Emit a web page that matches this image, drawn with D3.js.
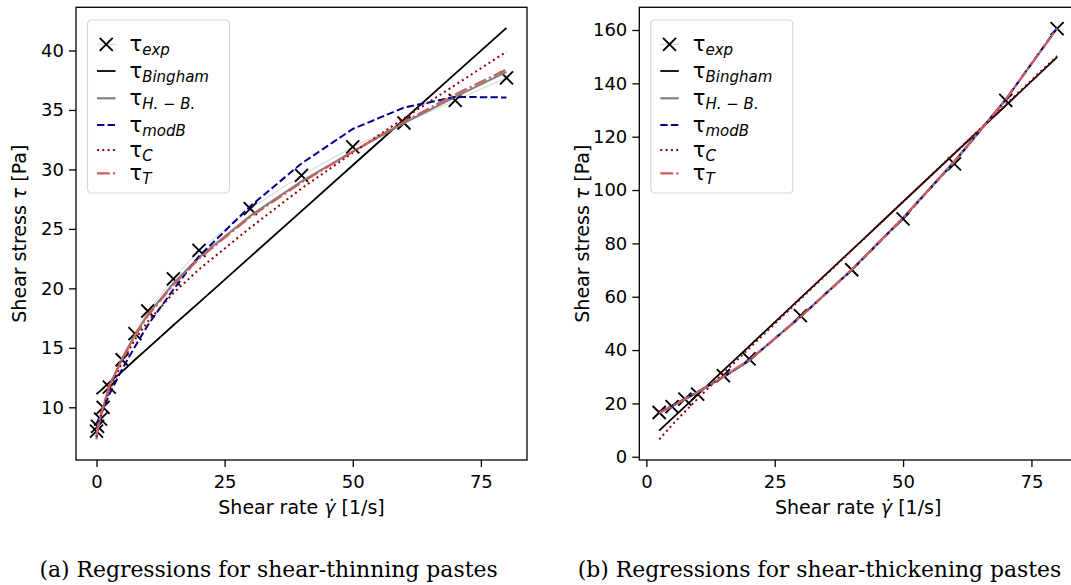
<!DOCTYPE html>
<html>
<head>
<meta charset="utf-8">
<script src="https://cdn.jsdelivr.net/npm/d3@7/dist/d3.min.js"></script>
<style>
  body { margin: 0; background: #fff; }
  svg { display: block; }
  .tick text { font-family: "DejaVu Sans", sans-serif; font-size: 18px; fill: #000; }
  .tick line { stroke: #000; stroke-width: 1.3; }
  .axis-label { font-family: "DejaVu Sans", sans-serif; font-size: 19px; fill: #000; }
  .legend text { font-family: "DejaVu Sans", sans-serif; fill: #000; }
  .caption { font-family: "DejaVu Serif", serif; font-size: 21.9px; fill: #000; }
</style>
</head>
<body>
<svg id="chart" width="1071" height="585"></svg>
<script>
// (a) shear-thinning paste
const thinRate    = [0, 0.2, 0.8, 1.3, 2.5, 5, 7.5, 10, 15, 20, 30, 40, 50, 60, 70, 80];
const thinExp     = [8.0, 8.4, 9.0, 10.0, 11.7, 14.0, 16.2, 18.1, 20.8, 23.2, 26.7, 29.5, 31.9, 33.9, 35.8, 37.7];
const thinBingham = [11.1, 11.2, 11.4, 11.6, 12.1, 13.0, 14.0, 14.95, 16.9, 18.8, 22.65, 26.5, 30.35, 34.2, 38.05, 41.9];
const thinHB      = [7.3, 8.1, 9.3, 10.0, 11.8, 14.1, 16.1, 17.8, 20.4, 22.6, 26.1, 29.0, 31.5, 33.9, 36.1, 38.2];
const thinModB    = [8.6, 8.8, 9.4, 9.8, 11.1, 13.2, 15.1, 16.9, 19.9, 22.7, 26.9, 30.5, 33.4, 35.2, 36.1, 36.05];
const thinCasson  = [7.5, 8.2, 9.2, 9.9, 11.4, 13.8, 15.7, 17.2, 19.6, 21.6, 25.1, 28.4, 31.4, 34.3, 37.1, 39.9];
const thinT       = [7.6, 8.3, 9.3, 10.0, 11.8, 14.0, 16.0, 17.7, 20.3, 22.5, 26.0, 28.9, 31.5, 34.0, 36.3, 38.4];

// (b) shear-thickening paste
const thickRate    = [2.5, 5, 7.5, 10, 15, 20, 30, 40, 50, 60, 70, 80];
const thickExp     = [16.6, 18.8, 21.6, 23.5, 30.4, 36.7, 52.9, 70.1, 89.2, 109.8, 133.6, 160.5];
const thickBingham = [9.8, 14.3, 18.8, 23.3, 32.4, 41.4, 59.5, 77.5, 95.6, 113.7, 131.7, 149.8];
const thickHB      = [16.4, 18.9, 21.5, 24.2, 29.9, 36.0, 52.5, 70.2, 89.6, 110.8, 134.0, 160.6];
const thickModB    = [16.9, 19.2, 21.7, 24.3, 29.9, 36.1, 52.4, 70.0, 89.4, 110.6, 133.9, 160.8];
const thickCasson  = [6.5, 11.9, 16.9, 21.8, 31.3, 40.6, 59.1, 77.4, 95.6, 113.8, 132.0, 150.3];
const thickT       = [16.5, 19.0, 21.6, 24.3, 30.0, 36.2, 52.3, 70.1, 89.5, 110.7, 133.9, 160.6];

const rateTicks  = [0, 25, 50, 75];
const thinTicks  = [10, 15, 20, 25, 30, 35, 40];
const thickTicks = [0, 20, 40, 60, 80, 100, 120, 140, 160];

const legendSubs = ['exp', 'Bingham', 'H. \u2212 B.', 'modB', 'C', 'T'];

// line styles, same order as the legend (after exp)
const fitStyles = [
  { color: '#000000', width: 1.8, dash: null },
  { color: '#808080', width: 2.2, dash: null },
  { color: '#00008b', width: 2,   dash: '7.4,3.2' },
  { color: '#8b0000', width: 2,   dash: '2,3.3' },
  { color: '#cd5c5c', width: 2.2, dash: '12.8,3.2,2.2,3.2' }
];

const svg = d3.select('#chart');
const plotTop = 7.3, plotBottom = 460;

const pad = ([a, b]) => [a - 0.05 * (b - a), b + 0.05 * (b - a)];
const cross = 'M-6.5,-6.5L6.5,6.5M-6.5,6.5L6.5,-6.5';

function drawPanel(p) {
  const fits = [p.bingham, p.hb, p.modB, p.casson, p.t];

  const x = d3.scaleLinear()
    .domain(pad(d3.extent(p.rate)))
    .range([p.left, p.right]);

  const y = d3.scaleLinear()
    .domain(pad(d3.extent([p.exp, ...fits].flat())))
    .range([plotBottom, plotTop]);

  const g = svg.append('g');

  const line = d3.line()
    .x((d, i) => x(p.rate[i]))
    .y(d => y(d));

  // experimental points, thin light grey line + crosses
  g.append('path')
    .attr('d', line(p.exp))
    .attr('fill', 'none')
    .attr('stroke', '#d3d3d3')
    .attr('stroke-width', 1);

  g.selectAll('.exp')
    .data(p.exp)
    .enter().append('path')
    .attr('class', 'exp')
    .attr('d', cross)
    .attr('transform', (d, i) => `translate(${x(p.rate[i])},${y(d)})`)
    .attr('stroke', '#000')
    .attr('stroke-width', 1.9)
    .attr('fill', 'none');

  fits.forEach((vals, k) => {
    const s = fitStyles[k];
    g.append('path')
      .attr('d', line(vals))
      .attr('fill', 'none')
      .attr('stroke', s.color)
      .attr('stroke-width', s.width)
      .attr('stroke-dasharray', s.dash);
  });

  // axes
  const xAxisG = g.append('g')
    .attr('transform', `translate(0,${plotBottom})`)
    .call(d3.axisBottom(x).tickValues(rateTicks).tickSize(7).tickPadding(8));
  xAxisG.select('.domain').remove();

  const yAxisG = g.append('g')
    .attr('transform', `translate(${p.left},0)`)
    .call(d3.axisLeft(y).tickValues(p.yTicks).tickSize(7).tickPadding(5));
  yAxisG.select('.domain').remove();

  g.append('rect')
    .attr('x', p.left)
    .attr('y', plotTop)
    .attr('width', p.right - p.left)
    .attr('height', plotBottom - plotTop)
    .attr('fill', 'none')
    .attr('stroke', '#000')
    .attr('stroke-width', 1.3);

  // axis labels
  const xl = g.append('text')
    .attr('class', 'axis-label')
    .attr('x', (p.left + p.right) / 2)
    .attr('y', 514)
    .attr('text-anchor', 'middle');
  xl.append('tspan').text('Shear rate ');
  xl.append('tspan').attr('font-style', 'italic').text('\u03b3\u0307');
  xl.append('tspan').text(' [1/s]');

  const yl = g.append('text')
    .attr('class', 'axis-label')
    .attr('transform', `translate(${p.left - 50},${(plotTop + plotBottom) / 2}) rotate(-90)`)
    .attr('text-anchor', 'middle');
  yl.append('tspan').text('Shear stress ');
  yl.append('tspan').attr('font-style', 'italic').text('\u03c4');
  yl.append('tspan').text(' [Pa]');

  // legend
  const lg = g.append('g')
    .attr('class', 'legend')
    .attr('transform', `translate(${p.left + 11.5},20)`);

  lg.append('rect')
    .attr('width', 142)
    .attr('height', 173)
    .attr('rx', 4)
    .attr('fill', '#fff')
    .attr('fill-opacity', 0.8)
    .attr('stroke', '#d6d6d6')
    .attr('stroke-width', 1.2);

  const rowY = [24.3, 51, 78.3, 105, 130, 153.3];

  rowY.forEach((ry, k) => {
    if (k === 0) {
      lg.append('line')
        .attr('x1', 9.5).attr('x2', 28).attr('y1', ry).attr('y2', ry)
        .attr('stroke', '#d3d3d3').attr('stroke-width', 1);
      lg.append('path')
        .attr('d', cross)
        .attr('transform', `translate(18.7,${ry})`)
        .attr('stroke', '#000').attr('stroke-width', 1.9);
    } else {
      const s = fitStyles[k - 1];
      lg.append('line')
        .attr('x1', 9.5).attr('x2', 28).attr('y1', ry).attr('y2', ry)
        .attr('stroke', s.color)
        .attr('stroke-width', s.width)
        .attr('stroke-dasharray', s.dash);
    }
    const t = lg.append('text')
      .attr('x', 42)
      .attr('y', ry + 7);
    t.append('tspan').attr('font-size', '21px').text('\u03c4');
    t.append('tspan')
      .attr('font-size', '15px')
      .attr('font-style', 'italic')
      .attr('dy', 4)
      .text(legendSubs[k]);
  });

  // caption
  svg.append('text')
    .attr('class', 'caption')
    .attr('x', p.captionX)
    .attr('y', 577)
    .attr('text-anchor', 'middle')
    .text(p.caption);
}

drawPanel({
  left: 76, right: 527,
  rate: thinRate, exp: thinExp,
  bingham: thinBingham, hb: thinHB, modB: thinModB, casson: thinCasson, t: thinT,
  yTicks: thinTicks,
  captionX: 268.5,
  caption: '(a) Regressions for shear-thinning pastes'
});

drawPanel({
  left: 639.3, right: 1077,
  rate: thickRate, exp: thickExp,
  bingham: thickBingham, hb: thickHB, modB: thickModB, casson: thickCasson, t: thickT,
  yTicks: thickTicks,
  captionX: 819.5,
  caption: '(b) Regressions for shear-thickening pastes'
});
</script>
</body>
</html>
